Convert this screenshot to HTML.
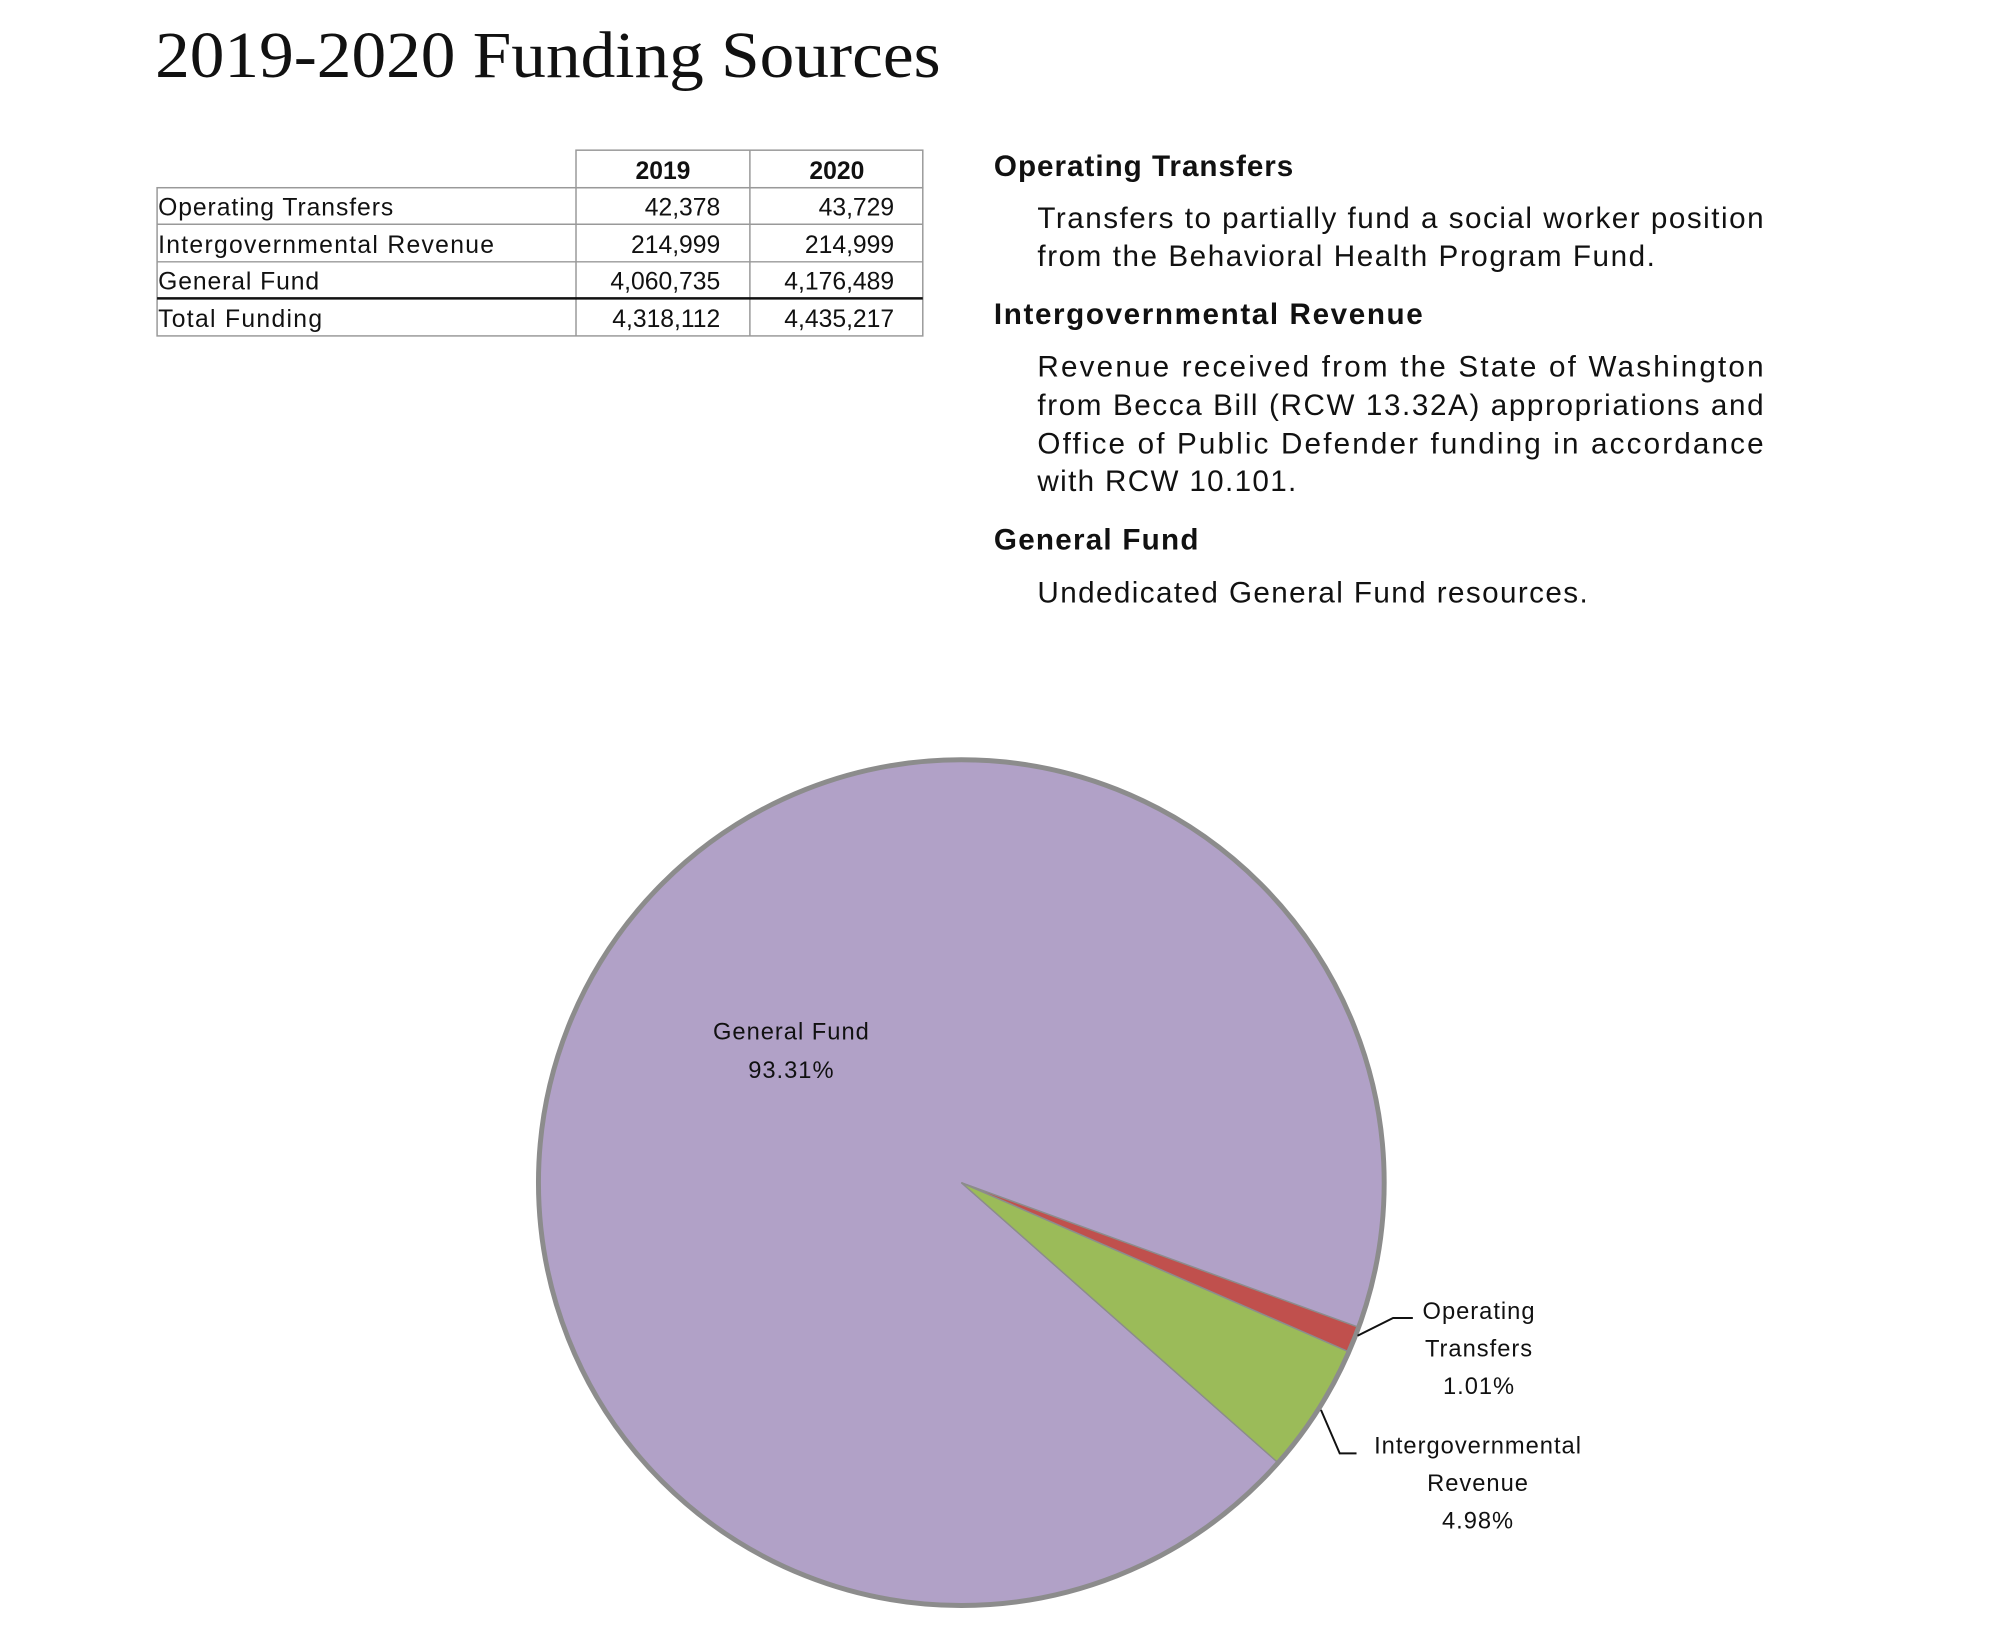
<!DOCTYPE html>
<html><head><meta charset="utf-8"><style>html,body{margin:0;padding:0;background:#fff}svg{display:block}</style></head>
<body>
<svg width="2000" height="1652" viewBox="0 0 2000 1652" xmlns="http://www.w3.org/2000/svg">
<g transform="scale(0.988)">
<text x="157" y="78" font-family="Liberation Serif, serif" font-size="66" fill="#111" textLength="795" lengthAdjust="spacingAndGlyphs">2019-2020 Funding Sources</text>
<g stroke="#999" stroke-width="1.5" fill="none">
<rect x="583" y="152" width="351" height="38"/>
<line x1="759" y1="152" x2="759" y2="340"/>
<rect x="159" y="190" width="775" height="150"/>
<line x1="583" y1="190" x2="583" y2="340"/>
<line x1="159" y1="227" x2="934" y2="227"/>
<line x1="159" y1="265" x2="934" y2="265"/>
</g>
<line x1="159" y1="302" x2="934" y2="302" stroke="#111" stroke-width="2.5"/>
<g font-family="Liberation Sans, sans-serif" font-size="25" fill="#111">
<text x="671" y="181" text-anchor="middle" font-weight="bold">2019</text>
<text x="847" y="181" text-anchor="middle" font-weight="bold">2020</text>
<text x="160" y="218" textLength="238">Operating Transfers</text>
<text x="160" y="256" textLength="340">Intergovernmental Revenue</text>
<text x="160" y="293" textLength="163">General Fund</text>
<text x="160" y="331" textLength="166">Total Funding</text>
<g text-anchor="end">
<text x="729" y="218">42,378</text><text x="905" y="218">43,729</text>
<text x="729" y="256">214,999</text><text x="905" y="256">214,999</text>
<text x="729" y="293">4,060,735</text><text x="905" y="293">4,176,489</text>
<text x="729" y="331">4,318,112</text><text x="905" y="331">4,435,217</text>
</g>
</g>
<g font-family="Liberation Sans, sans-serif" font-size="30" fill="#111">
<text x="1006" y="178" font-weight="bold" textLength="303">Operating Transfers</text>
<text x="1050" y="231" textLength="735">Transfers to partially fund a social worker position</text>
<text x="1050" y="269" textLength="625">from the Behavioral Health Program Fund.</text>
<text x="1006" y="328" font-weight="bold" textLength="434">Intergovernmental Revenue</text>
<text x="1050" y="381" textLength="735" lengthAdjust="spacing">Revenue received from the State of Washington</text>
<text x="1050" y="420" textLength="735" lengthAdjust="spacing">from Becca Bill (RCW 13.32A) appropriations and</text>
<text x="1050" y="459" textLength="735" lengthAdjust="spacing">Office of Public Defender funding in accordance</text>
<text x="1050" y="497" textLength="262">with RCW 10.101.</text>
<text x="1006" y="556" font-weight="bold" textLength="207">General Fund</text>
<text x="1050" y="610" textLength="557">Undedicated General Fund resources.</text>
</g>
<circle cx="973" cy="1197" r="428" fill="#b1a1c7"/>
<path d="M973,1197 L1375.2,1343.4 A428,428 0 0 1 1365.2,1368.3 Z" fill="#c0504d" stroke="#8c8c8c" stroke-width="1.5"/>
<path d="M973,1197 L1365.2,1368.3 A428,428 0 0 1 1293.6,1480.6 Z" fill="#9bbb59" stroke="#8c8c8c" stroke-width="1.5"/>
<circle cx="973" cy="1197" r="428" fill="none" stroke="#8c8c8c" stroke-width="5"/>
<g stroke="#111" stroke-width="2" fill="none">
<polyline points="1374,1352 1410,1334 1430,1334"/>
<polyline points="1337,1427 1356,1471 1373,1471"/>
</g>
<g font-family="Liberation Sans, sans-serif" font-size="24" fill="#111" text-anchor="middle" letter-spacing="1">
<text x="801" y="1052">General Fund</text>
<text x="801" y="1091">93.31%</text>
<text x="1497" y="1335">Operating</text>
<text x="1497" y="1373">Transfers</text>
<text x="1497" y="1411">1.01%</text>
<text x="1496" y="1471">Intergovernmental</text>
<text x="1496" y="1509">Revenue</text>
<text x="1496" y="1547">4.98%</text>
</g>
</g>
</svg>
</body></html>
